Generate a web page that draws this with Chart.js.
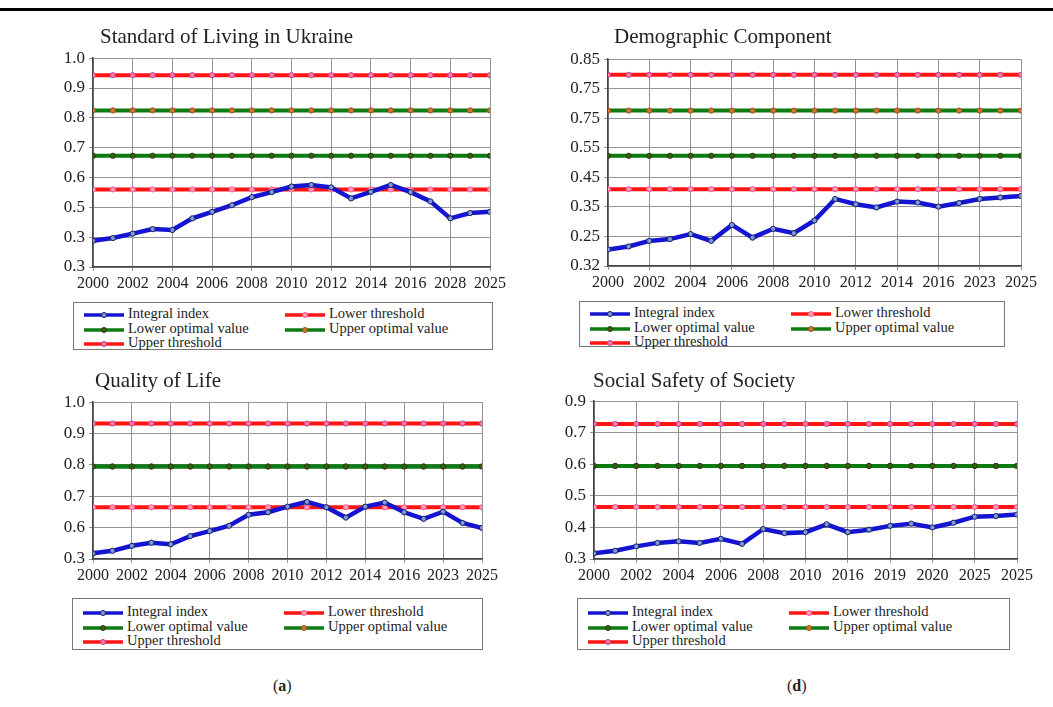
<!DOCTYPE html>
<html>
<head>
<meta charset="utf-8">
<script src="https://cdn.jsdelivr.net/npm/chart.js@4.4.1/dist/chart.umd.min.js"></script>
<style>
  body { margin:0; width:1053px; height:707px; background:#fff; position:relative; overflow:hidden; font-family:"Liberation Serif", serif; }
  .rule { position:absolute; left:0; top:8px; width:1053px; height:3px; background:#000; }
  .title { position:absolute; font-size:21px; color:#222; white-space:nowrap; }
  .legend { position:absolute; border:1px solid #777; font-size:14.5px; color:#222; box-sizing:border-box; }
  .item { position:absolute; white-space:nowrap; height:14px; line-height:14px; }
  .item svg { vertical-align:middle; margin-right:4px; }
  .cap { position:absolute; font-size:16px; color:#222; }
  canvas { position:absolute; }
</style>
</head>
<body>
<div class="rule"></div>
<div class="cap" style="left:273px; top:677px;">(<b>a</b>)</div>
<div class="cap" style="left:787px; top:677px;">(<b>d</b>)</div>
<script>
// --- data ---
// threshold levels: [lower threshold, lower optimal, upper optimal, upper threshold]
const xTicksA = ['2000','2002','2004','2006','2008','2010','2012','2014','2016','2028','2025'];
const yTicksA = ['0.3','0.3','0.5','0.6','0.7','0.8','0.9','1.0'];
const indexA = [0.388,0.397,0.412,0.427,0.424,0.463,0.485,0.507,0.534,0.551,0.570,
                0.575,0.567,0.530,0.552,0.575,0.551,0.520,0.463,0.481,0.485];
const levelsA = [0.560, 0.673, 0.825, 0.943];

const xTicksB = ['2000','2002','2004','2006','2008','2010','2012','2014','2016','2023','2025'];
const yTicksB = ['0.32','0.25','0.35','0.45','0.55','0.75','0.75','0.85'];
const indexB = [0.206,0.216,0.235,0.241,0.258,0.235,0.289,0.246,0.276,0.261,0.304,
                0.377,0.359,0.348,0.368,0.365,0.351,0.363,0.377,0.382,0.387];
const levelsB = [0.410, 0.523, 0.676, 0.797];

const xTicksC = ['2000','2002','2004','2006','2008','2010','2012','2014','2016','2023','2025'];
const yTicksC = ['0.3','0.6','0.7','0.8','0.9','1.0'];
const indexC = [0.518,0.526,0.542,0.552,0.547,0.573,0.589,0.606,0.641,0.649,0.667,
                0.682,0.665,0.632,0.667,0.680,0.649,0.628,0.651,0.615,0.599];
const levelsC = [0.665, 0.795, 0.795, 0.932];

const xTicksD = ['2000','2002','2004','2006','2008','2010','2016','2019','2020','2025','2025'];
const yTicksD = ['0.3','0.4','0.5','0.6','0.7','0.9'];
const indexD = [0.418,0.426,0.440,0.451,0.456,0.451,0.464,0.448,0.495,0.482,0.485,
                0.510,0.485,0.493,0.505,0.512,0.500,0.515,0.534,0.536,0.541];
const levelsD = [0.565, 0.695, 0.695, 0.828];

const seriesNames = ['Integral index','Lower threshold','Lower optimal value','Upper optimal value','Upper threshold'];

// line colour, marker fill, marker border
const styles = [
  { line:'#1414d2', fill:'#7d9ad8', edge:'#16205e' },
  { line:'#ff1414', fill:'#ff9cc0', edge:'#ff5a8c' },
  { line:'#0d7a12', fill:'#3c5a18', edge:'#24400c' },
  { line:'#0d7a12', fill:'#d2742e', edge:'#a0501c' },
  { line:'#ff1414', fill:'#ff7aa0', edge:'#c0409a' }
];

const panels = [
  { title:'Standard of Living in Ukraine', xTicks:xTicksA, yTicks:yTicksA, values:indexA, levels:levelsA, yMin:0.3, yMax:1.0,
    plot:[93,490,54,267], titleAt:[100,24], legend:[73,302,420,48] },
  { title:'Demographic Component', xTicks:xTicksB, yTicks:yTicksB, values:indexB, levels:levelsB, yMin:0.15, yMax:0.85,
    plot:[608,1021,55,266], titleAt:[614,24], legend:[579,301,426,46] },
  { title:'Quality of Life', xTicks:xTicksC, yTicks:yTicksC, values:indexC, levels:levelsC, yMin:0.5, yMax:1.0,
    plot:[93,482,398,559], titleAt:[95,368], legend:[72,598,411,52] },
  { title:'Social Safety of Society', xTicks:xTicksD, yTicks:yTicksD, values:indexD, levels:levelsD, yMin:0.4, yMax:0.9,
    plot:[594,1017,397,559], titleAt:[593,368], legend:[577,598,433,52] }
];

const AXIS_W = 50, PAD_T = 10, PAD_R = 24, XAXIS_H = 26;
const font = 'Liberation Serif';

function pts(vals) {
  return vals.map((v, i) => ({ x: i, y: v }));
}

function sample(st) {
  return `<svg width="40" height="8"><line x1="0" y1="4" x2="40" y2="4" stroke="${st.line}" stroke-width="3.5"/>` +
         `<circle cx="20" cy="4" r="2.5" fill="${st.fill}" stroke="${st.edge}" stroke-width="1"/></svg>`;
}

function makePanel(p) {
  const [L, R, T, B] = p.plot;
  const cv = document.createElement('canvas');
  const w = R - L + AXIS_W + PAD_R, h = B - T + PAD_T + XAXIS_H;
  cv.width = w; cv.height = h;
  cv.style.left = (L - AXIS_W) + 'px';
  cv.style.top = (T - PAD_T) + 'px';
  cv.style.width = w + 'px'; cv.style.height = h + 'px';
  document.body.appendChild(cv);

  const t = document.createElement('div');
  t.className = 'title';
  t.style.left = p.titleAt[0] + 'px';
  t.style.top = p.titleAt[1] + 'px';
  t.textContent = p.title;
  document.body.appendChild(t);

  const n = p.values.length;
  const series = [p.values].concat(p.levels.map(lv => new Array(n).fill(lv)));
  const datasets = series.map((vals, k) => ({
    label: seriesNames[k],
    data: pts(vals),
    borderColor: styles[k].line,
    borderWidth: k === 0 ? 4.5 : 4,
    pointRadius: 2.6,
    pointBorderWidth: 1,
    pointBackgroundColor: styles[k].fill,
    pointBorderColor: styles[k].edge,
    tension: 0
  }));

  new Chart(cv, {
    type: 'line',
    data: { datasets },
    options: {
      responsive: false,
      animation: false,
      layout: { padding: { top: PAD_T, right: PAD_R, left: 0, bottom: 0 } },
      plugins: { legend: { display: false }, tooltip: { enabled: false } },
      scales: {
        x: {
          type: 'linear', min: 0, max: n - 1,
          ticks: { stepSize: 2, autoSkip: false, maxRotation: 0, color: '#222', padding: 3,
                   font: { family: font, size: 16 },
                   callback: v => p.xTicks[Math.round(v / 2)] },
          grid: { color: '#939393', lineWidth: 1, tickLength: 4 },
          border: { color: '#444', width: 1.5 },
          afterFit: s => { s.height = XAXIS_H; }
        },
        y: {
          min: p.yMin, max: p.yMax,
          ticks: { stepSize: 0.1, color: '#222', padding: 4,
                   font: { family: font, size: 17 },
                   callback: v => p.yTicks[Math.round((v - p.yMin) / 0.1)] },
          grid: { color: '#939393', lineWidth: 1, tickLength: 4 },
          border: { color: '#444', width: 1.5 },
          afterFit: s => { s.width = AXIS_W; }
        }
      }
    }
  });

  const lg = document.createElement('div');
  lg.className = 'legend';
  const [lx, ly, lw, lh] = p.legend;
  lg.style.left = lx + 'px'; lg.style.top = ly + 'px';
  lg.style.width = lw + 'px'; lg.style.height = lh + 'px';
  const spots = [[10, 3], [211, 3], [10, 18], [211, 18], [10, 32]];
  seriesNames.forEach((name, k) => {
    const it = document.createElement('div');
    it.className = 'item';
    it.style.left = spots[k][0] + 'px';
    it.style.top = (spots[k][1] + (lh > 48 ? 2 : 0)) + 'px';
    it.innerHTML = sample(styles[k]) + name;
    lg.appendChild(it);
  });
  document.body.appendChild(lg);
}

panels.forEach(makePanel);
</script>
</body>
</html>
